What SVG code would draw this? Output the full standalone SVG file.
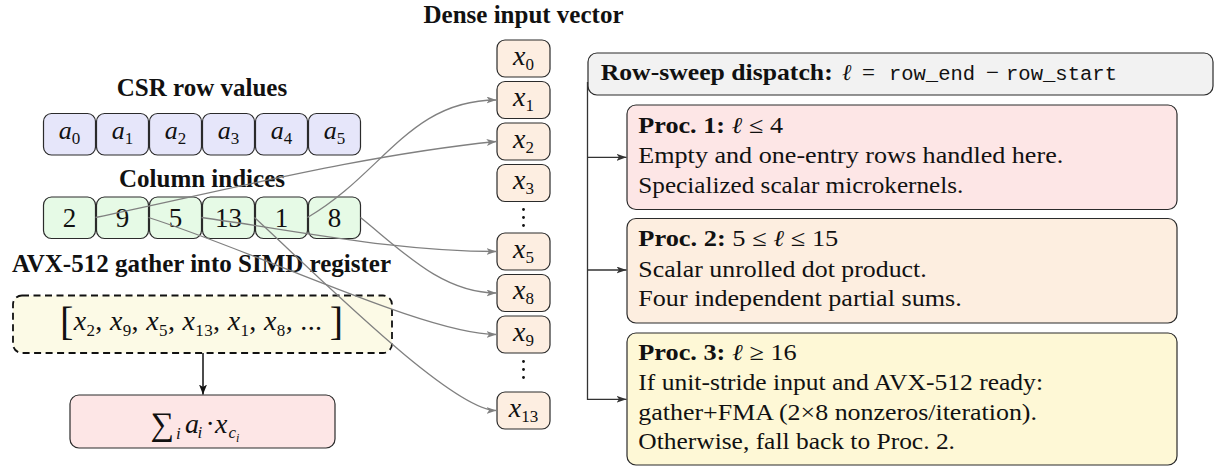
<svg xmlns="http://www.w3.org/2000/svg" width="1214" height="468" viewBox="0 0 1214 468">
<defs>
<style>
.hd{font-family:"Liberation Serif","DejaVu Serif",serif;font-weight:bold;font-size:25px;fill:#111;}
.bx{stroke:#2b2b2b;stroke-width:1.2;}
.val{fill:#e6e6fa;}
.idx{fill:#e6fae6;}
.xv{fill:#fdeee1;}
.m{font-family:"Liberation Serif","DejaVu Serif",serif;font-style:italic;fill:#111;}
.up{font-style:normal;}
.ell{font-family:"DejaVu Serif",serif;font-style:italic;font-weight:normal;}
.num{font-family:"Liberation Serif","DejaVu Serif",serif;font-size:27px;fill:#111;}
.rt{font-family:"Liberation Serif","DejaVu Serif",serif;font-size:23px;fill:#111;}
.mono{font-family:"Liberation Mono","DejaVu Sans Mono",monospace;font-size:20.5px;fill:#111;}
.conn{fill:none;stroke:#808080;stroke-width:1.3;}
.tree{fill:none;stroke:#333;stroke-width:1.3;}
.dot{fill:#111;}
</style>
<marker id="ag" viewBox="0 0 10 7" refX="10" refY="3.5" markerWidth="10" markerHeight="7" markerUnits="userSpaceOnUse" orient="auto">
<path d="M0,0 L10,3.5 L0,7 L2.5,3.5 z" fill="#808080"/>
</marker>
<marker id="ad" viewBox="0 0 10 7" refX="10" refY="3.5" markerWidth="10" markerHeight="7" markerUnits="userSpaceOnUse" orient="auto">
<path d="M0,0 L10,3.5 L0,7 L2.5,3.5 z" fill="#333"/>
</marker>
<marker id="ab" viewBox="0 0 10 8" refX="10" refY="4" markerWidth="10" markerHeight="8" markerUnits="userSpaceOnUse" orient="auto">
<path d="M0,0 L10,4 L0,8 L2.5,4 z" fill="#111"/>
</marker>
</defs>
<rect width="1214" height="468" fill="#fff"/>

<!-- headings -->
<text class="hd" x="523.5" y="23" text-anchor="middle">Dense input vector</text>
<text class="hd" x="202" y="95.5" text-anchor="middle">CSR row values</text>
<text class="hd" x="202" y="186.5" text-anchor="middle">Column indices</text>
<text class="hd" x="201.5" y="271.5" text-anchor="middle">AVX-512 gather into SIMD register</text>

<!-- CSR row values -->
<g id="values">
<g id="val-a0"><rect class="bx val" x="43.5" y="113.5" width="52" height="41.5" rx="8"/><text class="m" x="69.5" y="139" text-anchor="middle" font-size="26">a<tspan class="up" font-size="17" dy="5">0</tspan></text></g>
<g id="val-a1"><rect class="bx val" x="96.5" y="113.5" width="52" height="41.5" rx="8"/><text class="m" x="122.5" y="139" text-anchor="middle" font-size="26">a<tspan class="up" font-size="17" dy="5">1</tspan></text></g>
<g id="val-a2"><rect class="bx val" x="149.5" y="113.5" width="52" height="41.5" rx="8"/><text class="m" x="175.5" y="139" text-anchor="middle" font-size="26">a<tspan class="up" font-size="17" dy="5">2</tspan></text></g>
<g id="val-a3"><rect class="bx val" x="202.5" y="113.5" width="52" height="41.5" rx="8"/><text class="m" x="228.5" y="139" text-anchor="middle" font-size="26">a<tspan class="up" font-size="17" dy="5">3</tspan></text></g>
<g id="val-a4"><rect class="bx val" x="255.5" y="113.5" width="52" height="41.5" rx="8"/><text class="m" x="281.5" y="139" text-anchor="middle" font-size="26">a<tspan class="up" font-size="17" dy="5">4</tspan></text></g>
<g id="val-a5"><rect class="bx val" x="308.5" y="113.5" width="52" height="41.5" rx="8"/><text class="m" x="334.5" y="139" text-anchor="middle" font-size="26">a<tspan class="up" font-size="17" dy="5">5</tspan></text></g>
</g>

<!-- Column indices -->
<g id="indices">
<g id="idx-2"><rect class="bx idx" x="43.5" y="197" width="52" height="41.5" rx="8"/><text class="num" x="69.5" y="226.5" text-anchor="middle">2</text></g>
<g id="idx-9"><rect class="bx idx" x="96.5" y="197" width="52" height="41.5" rx="8"/><text class="num" x="122.5" y="226.5" text-anchor="middle">9</text></g>
<g id="idx-5"><rect class="bx idx" x="149.5" y="197" width="52" height="41.5" rx="8"/><text class="num" x="175.5" y="226.5" text-anchor="middle">5</text></g>
<g id="idx-13"><rect class="bx idx" x="202.5" y="197" width="52" height="41.5" rx="8"/><text class="num" x="228.5" y="226.5" text-anchor="middle">13</text></g>
<g id="idx-1"><rect class="bx idx" x="255.5" y="197" width="52" height="41.5" rx="8"/><text class="num" x="281.5" y="226.5" text-anchor="middle">1</text></g>
<g id="idx-8"><rect class="bx idx" x="308.5" y="197" width="52" height="41.5" rx="8"/><text class="num" x="334.5" y="226.5" text-anchor="middle">8</text></g>
</g>

<!-- Dense input vector -->
<g id="xvec">
<g id="x0"><rect class="bx xv" x="497" y="40" width="53" height="37" rx="8"/><text class="m" x="523.5" y="64.5" text-anchor="middle" font-size="28">x<tspan class="up" font-size="17" dy="5">0</tspan></text></g>
<g id="x1"><rect class="bx xv" x="497" y="81.5" width="53" height="37" rx="8"/><text class="m" x="523.5" y="106" text-anchor="middle" font-size="28">x<tspan class="up" font-size="17" dy="5">1</tspan></text></g>
<g id="x2"><rect class="bx xv" x="497" y="123" width="53" height="37" rx="8"/><text class="m" x="523.5" y="147.5" text-anchor="middle" font-size="28">x<tspan class="up" font-size="17" dy="5">2</tspan></text></g>
<g id="x3"><rect class="bx xv" x="497" y="164.5" width="53" height="37" rx="8"/><text class="m" x="523.5" y="189" text-anchor="middle" font-size="28">x<tspan class="up" font-size="17" dy="5">3</tspan></text></g>
<g id="vdots1"><circle class="dot" cx="523.5" cy="209.5" r="1.4"/><circle class="dot" cx="523.5" cy="217.5" r="1.4"/><circle class="dot" cx="523.5" cy="225.5" r="1.4"/></g>
<g id="x5"><rect class="bx xv" x="497" y="233" width="53" height="37" rx="8"/><text class="m" x="523.5" y="257.5" text-anchor="middle" font-size="28">x<tspan class="up" font-size="17" dy="5">5</tspan></text></g>
<g id="x8"><rect class="bx xv" x="497" y="274.5" width="53" height="37" rx="8"/><text class="m" x="523.5" y="299" text-anchor="middle" font-size="28">x<tspan class="up" font-size="17" dy="5">8</tspan></text></g>
<g id="x9"><rect class="bx xv" x="497" y="316" width="53" height="37" rx="8"/><text class="m" x="523.5" y="340.5" text-anchor="middle" font-size="28">x<tspan class="up" font-size="17" dy="5">9</tspan></text></g>
<g id="vdots2"><circle class="dot" cx="523.5" cy="361.5" r="1.4"/><circle class="dot" cx="523.5" cy="369.5" r="1.4"/><circle class="dot" cx="523.5" cy="377.5" r="1.4"/></g>
<g id="x13"><rect class="bx xv" x="497" y="392" width="53" height="37" rx="8"/><text class="m" x="523.5" y="416.5" text-anchor="middle" font-size="28">x<tspan class="up" font-size="17" dy="5">13</tspan></text></g>
</g>

<!-- SIMD register -->
<g id="simd">
<rect x="13" y="295.5" width="379" height="57.5" rx="9" fill="#fcfae6" stroke="#111" stroke-width="1.8" stroke-dasharray="7 4.5"/>
<text class="m" x="201.5" y="329.5" text-anchor="middle" font-size="28" textLength="283" lengthAdjust="spacing"><tspan class="up" font-size="40" dy="5">[</tspan><tspan dy="-5">x</tspan><tspan class="up" font-size="17" dy="6">2</tspan><tspan class="up" dy="-6">, </tspan>x<tspan class="up" font-size="17" dy="6">9</tspan><tspan class="up" dy="-6">, </tspan>x<tspan class="up" font-size="17" dy="6">5</tspan><tspan class="up" dy="-6">, </tspan>x<tspan class="up" font-size="17" dy="6">13</tspan><tspan class="up" dy="-6">, </tspan>x<tspan class="up" font-size="17" dy="6">1</tspan><tspan class="up" dy="-6">, </tspan>x<tspan class="up" font-size="17" dy="6">8</tspan><tspan class="up" dy="-6">, ... </tspan><tspan class="up" font-size="40" dy="5">]</tspan></text>
</g>

<!-- Sum -->
<g id="sum">
<rect class="bx" x="70" y="395" width="265" height="53" rx="9" fill="#fde6e6"/>
<text class="m" font-size="28"><tspan class="up" x="150.5" y="435" font-size="33">∑</tspan><tspan x="176" y="439" font-size="17">i</tspan><tspan x="185" y="433">a</tspan><tspan x="197.5" y="438" font-size="17">i</tspan><tspan class="up" x="205.5" y="433">·</tspan><tspan x="215" y="433">x</tspan><tspan x="228.5" y="438" font-size="17">c</tspan><tspan x="236" y="442" font-size="12">i</tspan></text>
</g>

<!-- Dispatch tree -->
<g id="dispatch">
<rect class="bx" x="588" y="53" width="625" height="42" rx="9" fill="#f2f2f2"/>
<text class="rt" x="600.7" y="79.5" font-weight="bold" textLength="232" lengthAdjust="spacingAndGlyphs">Row-sweep dispatch:</text>
<text class="rt ell" x="842" y="79.5">ℓ</text>
<text class="rt" x="862" y="79.5">=</text>
<text class="mono" x="889" y="79.5" textLength="86" lengthAdjust="spacingAndGlyphs">row_end</text>
<text class="rt" x="986" y="79.5">−</text>
<text class="mono" x="1006" y="79.5" textLength="111" lengthAdjust="spacingAndGlyphs">row_start</text>
</g>

<g id="proc1">
<rect class="bx" x="627" y="105" width="550" height="104.5" rx="9" fill="#fde6e6"/>
<text class="rt" x="638.3" y="132.5" textLength="144.7" lengthAdjust="spacingAndGlyphs"><tspan font-weight="bold">Proc. 1:</tspan> <tspan class="ell">ℓ</tspan>  ≤ 4</text>
<text class="rt" x="638.3" y="162.7" textLength="425" lengthAdjust="spacingAndGlyphs">Empty and one-entry rows handled here.</text>
<text class="rt" x="638.3" y="192.7" textLength="325" lengthAdjust="spacingAndGlyphs">Specialized scalar microkernels.</text>
</g>

<g id="proc2">
<rect class="bx" x="627" y="218.5" width="550" height="104.5" rx="9" fill="#fdeee0"/>
<text class="rt" x="638.3" y="246" textLength="200" lengthAdjust="spacingAndGlyphs"><tspan font-weight="bold">Proc. 2:</tspan> 5 ≤ <tspan class="ell">ℓ</tspan> ≤ 15</text>
<text class="rt" x="638.3" y="276.5" textLength="288.4" lengthAdjust="spacingAndGlyphs">Scalar unrolled dot product.</text>
<text class="rt" x="638.3" y="306" textLength="323.4" lengthAdjust="spacingAndGlyphs">Four independent partial sums.</text>
</g>

<g id="proc3">
<rect class="bx" x="627" y="333" width="550" height="132" rx="9" fill="#fef8d6"/>
<text class="rt" x="638.3" y="359.5" textLength="158.4" lengthAdjust="spacingAndGlyphs"><tspan font-weight="bold">Proc. 3:</tspan> <tspan class="ell">ℓ</tspan> ≥ 16</text>
<text class="rt" x="638.3" y="389.5" textLength="404.7" lengthAdjust="spacingAndGlyphs">If unit-stride input and AVX-512 ready:</text>
<text class="rt" x="638.3" y="419.5" textLength="398.7" lengthAdjust="spacingAndGlyphs">gather+FMA (2×8 nonzeros/iteration).</text>
<text class="rt" x="638.3" y="449" textLength="316.7" lengthAdjust="spacingAndGlyphs">Otherwise, fall back to Proc. 2.</text>
</g>

<!-- connectors -->
<g id="connectors">
<path class="conn" marker-end="url(#ag)" d="M95.5,217.5 C229,189.5 363,155 496.5,141.5"/>
<path class="conn" marker-end="url(#ag)" d="M148.5,217.5 C258.5,252.5 426.5,334.5 496.5,334.5"/>
<path class="conn" marker-end="url(#ag)" d="M201.5,217.5 C301.5,231.5 396.5,251.5 496.5,251.5"/>
<path class="conn" marker-end="url(#ag)" d="M254.5,217.5 C314.5,272.5 451.5,410.5 496.5,410.5"/>
<path class="conn" marker-end="url(#ag)" d="M307.5,217.5 C382.5,174 409.5,100 496.5,100"/>
<path class="conn" marker-end="url(#ag)" d="M360.5,217.5 C400.5,249.5 441.5,293 496.5,293"/>
<path fill="none" stroke="#111" stroke-width="1.5" marker-end="url(#ab)" d="M203,353 V394.5"/>
<path class="tree" marker-end="url(#ad)" d="M587.5,82 V399.3 H626.5"/>
<path class="tree" marker-end="url(#ad)" d="M587.5,157.3 H626.5"/>
<path class="tree" marker-end="url(#ad)" d="M587.5,270 H626.5"/>
</g>
</svg>
